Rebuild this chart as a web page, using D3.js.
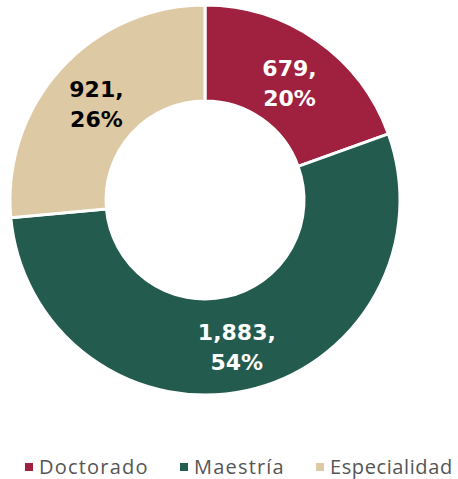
<!DOCTYPE html>
<html>
<head>
<meta charset="utf-8">
<script src="https://cdn.jsdelivr.net/npm/d3@7"></script>
<style>
  html, body { margin: 0; padding: 0; background: #fff; overflow: hidden; }
  svg { display: block; }
</style>
</head>
<body>
<svg width="458" height="479"></svg>
<script>
var categories = ["Doctorado", "Maestría", "Especialidad"];
var values = [679, 1883, 921];
var percents = ["20%", "54%", "26%"];
var colors = ["#A0213F", "#235B4E", "#DDC9A3"];
var labelColors = ["#ffffff", "#ffffff", "#000000"];

window.onload = function() {
  var svg = d3.select("svg");
  var cx = 205, cy = 200;
  var outer = 195, inner = 99;
  var fmt = d3.format(",");

  var pie = d3.pie().sort(null).value(function(d) { return d; });
  var arc = d3.arc().innerRadius(inner).outerRadius(outer);
  var arcs = pie(values);

  var g = svg.append("g").attr("transform", "translate(" + cx + "," + cy + ")");

  g.selectAll("path")
    .data(arcs)
    .enter().append("path")
      .attr("d", arc)
      .attr("fill", function(d, i) { return colors[i]; })
      .attr("stroke", "#fff")
      .attr("stroke-width", 3);

  var labels = g.selectAll(".lbl")
    .data(arcs)
    .enter().append("text")
      .attr("class", "lbl")
      .attr("transform", function(d) { var c = arc.centroid(d); return "translate(" + c[0] + "," + (c[1] + 2) + ")"; })
      .attr("text-anchor", "middle")
      .attr("fill", function(d, i) { return labelColors[i]; })
      .style("font-family", "'DejaVu Sans', sans-serif")
      .style("font-weight", "bold")
      .style("font-size", "22px");
  labels.append("tspan")
    .attr("x", 0).attr("y", -6)
    .text(function(d, i) { return fmt(values[i]) + ","; });
  labels.append("tspan")
    .attr("x", 0).attr("y", 24)
    .text(function(d, i) { return percents[i]; });

  // legend
  var legX = [25, 180, 316];
  var leg = svg.append("g").selectAll("g")
    .data(categories)
    .enter().append("g")
      .attr("transform", function(d, i) { return "translate(" + legX[i] + ",467)"; });
  leg.append("rect")
    .attr("x", 0).attr("y", -4)
    .attr("width", 8).attr("height", 8)
    .attr("fill", function(d, i) { return colors[i]; });
  leg.append("text")
    .attr("x", 14).attr("y", 7)
    .attr("fill", "#555")
    .style("font-family", "'Open Sans', sans-serif")
    .style("font-size", "20px")
    .style("letter-spacing", function(d, i) { return i == 2 ? "0.6px" : "1.2px"; })
    .text(function(d) { return d; });
};
</script>
</body>
</html>
